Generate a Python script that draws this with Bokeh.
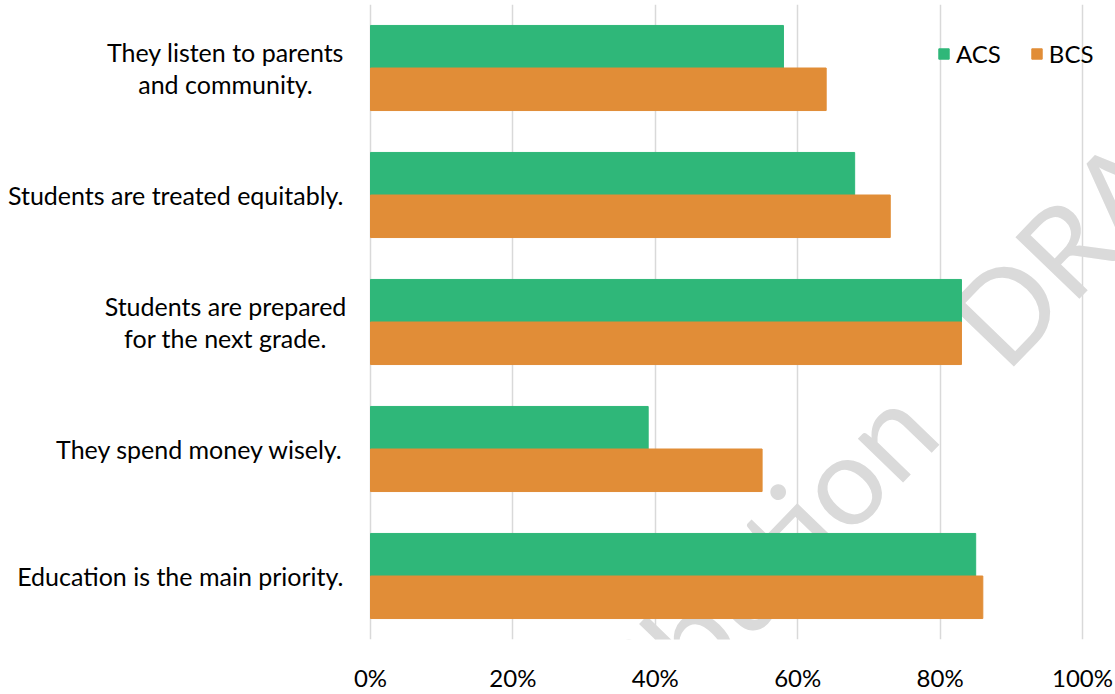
import math
from bokeh.plotting import figure
from bokeh.models import (Range1d, FixedTicker, Legend, LegendItem, Label,
                          ColumnDataSource)
from bokeh.core.properties import value
from bokeh.transform import dodge
from bokeh.embed import file_html
from bokeh.resources import INLINE

categories = [
    "They listen to parents\nand community.",
    "Students are treated equitably.",
    "Students are prepared\nfor the next grade.",
    "They spend money wisely.",
    "Education is the main priority.",
]
acs = [0.58, 0.68, 0.83, 0.39, 0.85]
bcs = [0.64, 0.73, 0.83, 0.55, 0.86]
x_ticks = [0, 0.2, 0.4, 0.6, 0.8, 1.0]
x_tick_labels = ["0%", "20%", "40%", "60%", "80%", "100%"]
series_names = ["ACS", "BCS"]
watermark_words = ["Distribution", "DRAFT"]

GREEN = "#2FB779"
ORANGE = "#E18D37"
FONT = "Lato"
FS = "24px"
CAT_FS = "25px"

# pixel geometry of the plot frame
W, H = 1115, 694
ZERO_PX, FULL_PX = 370, 1082          # where 0% and 100% fall
FRAME_BOTTOM = 645
px_per_unit = FULL_PX - ZERO_PX

pos = list(range(len(categories)))
src = ColumnDataSource(dict(pos=pos, acs=acs, bcs=bcs))

p = figure(width=W, height=H, output_backend="svg", toolbar_location=None,
           x_range=Range1d(-ZERO_PX / px_per_unit, (W - ZERO_PX) / px_per_unit),
           y_range=Range1d(4.5, -0.5),
           min_border_left=0, min_border_right=0, min_border_top=4,
           min_border_bottom=H - FRAME_BOTTOM)
p.outline_line_color = None
p.background_fill_color = "white"

# faint watermark behind the bars
ang = math.radians(46)
wm1 = Label(x=910, y=FRAME_BOTTOM - 411, x_units="screen", y_units="screen",
            text=watermark_words[0], angle=ang, text_align="right",
            text_baseline="alphabetic", text_font_size="124px",
            text_color="#dadada", text_font=FONT)
wm2 = Label(x=971, y=FRAME_BOTTOM - 347, x_units="screen", y_units="screen",
            text=watermark_words[1], angle=ang, text_align="left",
            text_baseline="alphabetic", text_font_size="124px",
            text_color="#dadada", text_font=FONT)
p.add_layout(wm1)
p.add_layout(wm2)

r1 = p.hbar(y=dodge("pos", -0.1675, range=p.y_range), right="acs", left=0,
            height=0.335, color=GREEN, source=src, level="overlay")
r2 = p.hbar(y=dodge("pos", 0.1675, range=p.y_range), right="bcs", left=0,
            height=0.335, color=ORANGE, source=src, level="overlay")

# category labels: one-line labels right-aligned, two-line labels centred
one = [(i, c) for i, c in zip(pos, categories) if "\n" not in c]
two = [(i, c) for i, c in zip(pos, categories) if "\n" in c]
p.text(x=[-27 / px_per_unit] * len(one), y=[i for i, _ in one],
       text=[c for _, c in one], text_align="right", text_baseline="middle",
       text_font=value(FONT), text_font_size=CAT_FS, text_color="#000000")
p.text(x=[-145 / px_per_unit] * len(two), y=[i for i, _ in two],
       text=[c for _, c in two], text_align="center", text_baseline="middle",
       text_line_height=1.07,
       text_font=value(FONT), text_font_size=CAT_FS, text_color="#000000")

p.xaxis.ticker = FixedTicker(ticks=x_ticks)
p.xaxis.major_label_overrides = {t: l for t, l in zip(x_ticks, x_tick_labels)}
p.xaxis.axis_line_color = None
p.xaxis.major_tick_line_color = None
p.xaxis.minor_tick_line_color = None
p.xaxis.major_tick_out = 0
p.xaxis.major_label_text_font = FONT
p.xaxis.major_label_text_font_size = FS
p.xaxis.major_label_text_color = "#000000"
p.xaxis.major_label_standoff = 23
p.yaxis.visible = False

p.xgrid.ticker = FixedTicker(ticks=x_ticks)
p.xgrid.grid_line_color = "#d9d9d9"
p.xgrid.grid_line_width = 1.5
p.ygrid.grid_line_color = None

legend = Legend(items=[LegendItem(label=series_names[0], renderers=[r1]),
                       LegendItem(label=series_names[1], renderers=[r2])],
                orientation="horizontal", location=(937, 571),
                glyph_width=13, glyph_height=13, label_standoff=6, spacing=29,
                label_height=24, padding=0, margin=0, border_line_color=None,
                background_fill_alpha=0, label_text_font=FONT,
                label_text_font_size=FS, label_text_color="#000000")
p.add_layout(legend)

open("out.html", "w").write(file_html(p, INLINE))
